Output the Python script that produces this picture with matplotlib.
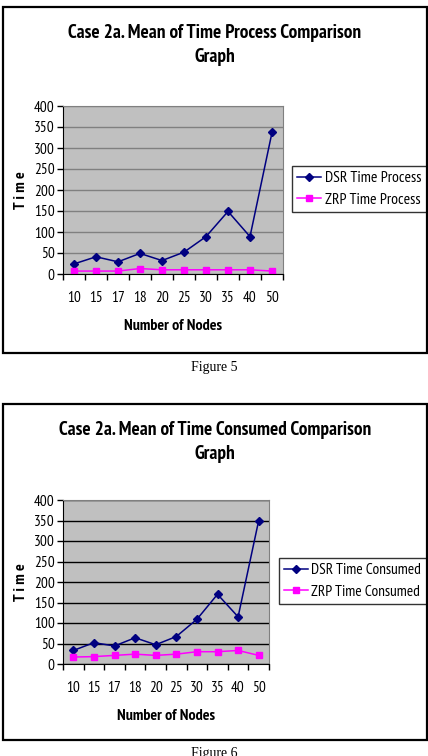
import matplotlib
matplotlib.use('Agg')
import matplotlib.pyplot as plt
from matplotlib import font_manager
from matplotlib.patches import Rectangle

# Данные
nodes = ['10', '15', '17', '18', '20', '25', '30', '35', '40', '50']
dsr_process = [24, 41, 29, 49, 32, 52, 89, 149, 89, 337]
zrp_process = [7, 7, 7, 13, 10, 10, 10, 10, 10, 7]
dsr_consumed = [33, 52, 44, 64, 47, 67, 109, 170, 115, 350]
zrp_consumed = [17, 18, 21, 24, 21, 24, 30, 30, 33, 21]


# Узкий шрифт (аналог Arial Narrow), если есть
def pick(cands, weight):
    have = {f.name for f in font_manager.fontManager.ttflist if f.weight >= weight}
    for c in cands:
        if c in have:
            return c
    return 'Liberation Sans'


narrow = ['Liberation Sans Narrow', 'PT Sans Narrow', 'Roboto Condensed',
          'Fira Sans Condensed', 'IBM Plex Sans Condensed', 'Asap Condensed',
          'Archivo Narrow']
BOLD = pick(narrow, 700)
REG = pick(narrow, 400)
plt.rcParams['font.family'] = [REG, 'Liberation Sans', 'DejaVu Sans']

W, H = 428, 756
fig = plt.figure(figsize=(W / 100, H / 100), dpi=100)
fig.patch.set_facecolor('white')


def fit(txt, width):
    # подгоняем размер шрифта под ширину в пикселях
    fig.canvas.draw()
    w = txt.get_window_extent().width
    txt.set_fontsize(txt.get_fontsize() * width / w)


def px_axes(x0, y0, x1, y1):
    return fig.add_axes([x0 / W, (H - y1) / H, (x1 - x0) / W, (y1 - y0) / H])


def panel(box, ax_box, title, title_w, dsr, zrp, names, grid_color, leg_pos, leg_w,
          caption, cap_y):
    bx0, by0, bx1, by1 = box
    fig.patches.append(Rectangle((bx0 / W, (H - by1) / H), (bx1 - bx0) / W,
                                 (by1 - by0) / H, transform=fig.transFigure,
                                 fill=False, edgecolor='black', linewidth=1.6))
    ax = px_axes(*ax_box)
    x = list(range(len(nodes)))
    ax.set_facecolor('#C0C0C0')
    ax.plot(x, dsr, color='#000080', marker='D', markersize=4.5, linewidth=1.1,
            label=names[0])
    ax.plot(x, zrp, color='#FF00FF', marker='s', markersize=5, linewidth=1.1,
            label=names[1])
    ax.set_xlim(-0.5, len(nodes) - 0.5)
    ax.set_ylim(0, 400)
    ax.set_yticks(range(0, 401, 50))
    ax.set_xticks(x)
    ax.set_xticklabels(nodes, fontsize=11)
    ax.set_xticks([i - 0.5 for i in range(len(nodes) + 1)], minor=True)
    ax.tick_params(axis='x', which='major', length=0, pad=12)
    ax.tick_params(axis='x', which='minor', length=4, width=1, direction='out')
    ax.tick_params(axis='y', length=4, width=1, labelsize=11, pad=2)
    ax.yaxis.grid(True, color=grid_color, linewidth=1)
    ax.set_axisbelow(True)
    for s in ['top', 'right']:
        ax.spines[s].set_color('#808080')
    ax.set_xlabel('Number of Nodes', fontsize=11.5, fontweight='bold',
                  family=BOLD, labelpad=10)
    ax.set_ylabel('T i m e', fontsize=11.5, fontweight='bold', family=BOLD, labelpad=4)

    t = fig.text((bx0 + bx1) / 2 / W, 1 - (by0 + 17) / H, title, ha='center', va='top',
                 fontsize=14, fontweight='bold', family=BOLD, linespacing=1.4)
    fit(t, title_w)

    probe = fig.text(0, 0, names[0], fontsize=10)
    fit(probe, leg_w)
    fs = probe.get_fontsize()
    probe.remove()
    leg = ax.legend(loc='center left', bbox_to_anchor=(leg_pos[0] / W, 1 - leg_pos[1] / H),
                    bbox_transform=fig.transFigure, fontsize=fs, frameon=True,
                    fancybox=False, edgecolor='black', handlelength=24 * 0.72 / fs,
                    borderpad=0.35, labelspacing=0.5, handletextpad=0.2,
                    borderaxespad=0)
    leg.get_frame().set_linewidth(1)
    fig.text(0.5, 1 - cap_y / H, caption, ha='center', va='center', fontsize=10,
             family='Liberation Serif')
    return ax


panel((3, 7, 427, 353), (63, 106, 283, 274),
      'Case 2a. Mean of Time Process Comparison\nGraph', 294,
      dsr_process, zrp_process, ['DSR Time Process', 'ZRP Time Process'],
      '#808080', (292, 189), 96, 'Figure 5', 367)

panel((3, 404, 427, 740), (63, 500, 269, 664),
      'Case 2a. Mean of Time Consumed Comparison\nGraph', 312,
      dsr_consumed, zrp_consumed, ['DSR Time Consumed', 'ZRP Time Consumed'],
      'black', (279, 581), 110, 'Figure 6', 753)

plt.savefig('out.png', dpi=100)
plt.close()
